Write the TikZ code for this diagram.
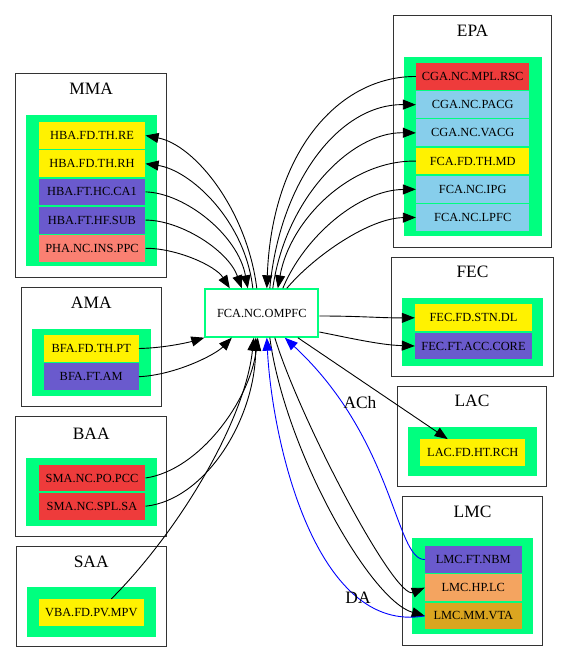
\documentclass[tikz,border=0pt]{standalone}
\usepackage{fontspec}
\setmainfont{Liberation Serif}
\usepackage{tikz}
\usetikzlibrary{arrows.meta,positioning}

\definecolor{springgreen}{HTML}{00FF7F}
\definecolor{slateblue}{HTML}{6A5ACD}
\definecolor{salmon}{HTML}{FA8072}
\definecolor{brownred}{HTML}{EE3B3B}
\definecolor{skyblue}{HTML}{87CEEB}
\definecolor{sandybrown}{HTML}{F4A460}
\definecolor{goldenrod}{HTML}{DAA520}

\begin{document}
\begin{tikzpicture}[
    x=1pt, y=-1pt,
    frame/.style={draw=black!80, line width=0.9pt},
    panel/.style={fill=springgreen},
    clabel/.style={font=\fontsize{17.4pt}{20pt}\selectfont, inner sep=0pt},
    cell/.style={inner sep=0pt, minimum height=26.8pt, font=\fontsize{12.4pt}{14pt}\selectfont},
    hub/.style={draw=springgreen, line width=2pt, fill=white, minimum width=113pt, minimum height=47.4pt, inner sep=0pt, font=\fontsize{12.4pt}{14pt}\selectfont},
    edge/.style={-{Triangle[length=13pt,width=10pt]}, line width=0.9pt},
    bedge/.style={edge, blue},
    elabel/.style={font=\fontsize{17.4pt}{20pt}\selectfont, inner sep=0pt}
]
\useasboundingbox (0,0) rectangle (569,663);

% clusters
\draw[frame] (15.7,73.3) rectangle (166.7,277);
\fill[panel] (26,115) rectangle (156.7,266);
\node[clabel] at (91.2,89) {MMA};
\draw[frame] (393.3,15) rectangle (551.7,247);
\fill[panel] (404,56.7) rectangle (541.7,236);
\node[clabel] at (472.5,30.7) {EPA};
\draw[frame] (21.7,287.3) rectangle (161,406.7);
\fill[panel] (32,329) rectangle (150.7,396);
\node[clabel] at (91.3,302.7) {AMA};
\draw[frame] (15.7,416.7) rectangle (166.7,536);
\fill[panel] (26,457.7) rectangle (156.7,525.7);
\node[clabel] at (91.2,433.3) {BAA};
\draw[frame] (16.3,546) rectangle (166,646.7);
\fill[panel] (26.7,586.7) rectangle (156,636.7);
\node[clabel] at (91.2,561.7) {SAA};
\draw[frame] (391.7,257) rectangle (553.3,376);
\fill[panel] (402.3,298.3) rectangle (542.7,365.7);
\node[clabel] at (472.5,272) {FEC};
\draw[frame] (397.3,386) rectangle (546.7,486.7);
\fill[panel] (408.3,427.3) rectangle (536.7,476);
\node[clabel] at (472,400.7) {LAC};
\draw[frame] (402.3,496.7) rectangle (542.7,645.7);
\fill[panel] (412.3,538.3) rectangle (532.7,634.3);
\node[clabel] at (472.5,511.7) {LMC};

% MMA
\node[cell, fill=yellow, minimum width=106.7pt] (re) at (92,135.5) {HBA.FD.TH.RE};
\node[cell, fill=yellow, minimum width=106.7pt, below=1pt of re] (rh) {HBA.FD.TH.RH};
\node[cell, fill=slateblue, minimum width=106.7pt, below=1pt of rh] (ca1) {HBA.FT.HC.CA1};
\node[cell, fill=slateblue, minimum width=106.7pt, below=1pt of ca1] (sub) {HBA.FT.HF.SUB};
\node[cell, fill=salmon, minimum width=106.7pt, below=1pt of sub] (ppc) {PHA.NC.INS.PPC};

% EPA
\node[cell, fill=brownred, minimum width=113.3pt] (rsc) at (472.7,76.5) {CGA.NC.MPL.RSC};
\node[cell, fill=skyblue, minimum width=113.3pt, below=1pt of rsc] (pacg) {CGA.NC.PACG};
\node[cell, fill=skyblue, minimum width=113.3pt, below=1pt of pacg] (vacg) {CGA.NC.VACG};
\node[cell, fill=yellow, minimum width=113.3pt, below=1pt of vacg] (md) {FCA.FD.TH.MD};
\node[cell, fill=skyblue, minimum width=113.3pt, below=1pt of md] (ipg) {FCA.NC.IPG};
\node[cell, fill=skyblue, minimum width=113.3pt, below=1pt of ipg] (lpfc) {FCA.NC.LPFC};

% AMA
\node[cell, fill=yellow, minimum width=95pt] (pt) at (91.2,348.5) {BFA.FD.TH.PT};
\node[cell, fill=slateblue, minimum width=95pt, below=1pt of pt] (am) {BFA.FT.AM};

% BAA
\node[cell, fill=brownred, minimum width=106.7pt] (pcc) at (92,478) {SMA.NC.PO.PCC};
\node[cell, fill=brownred, minimum width=106.7pt, below=1pt of pcc] (sa) {SMA.NC.SPL.SA};

% SAA
\node[cell, fill=yellow, minimum width=105.3pt] (mpv) at (91.3,612.5) {VBA.FD.PV.MPV};

% FEC
\node[cell, fill=yellow, minimum width=117pt] (dl) at (473.5,317.8) {FEC.FD.STN.DL};
\node[cell, fill=slateblue, minimum width=117pt, below=1pt of dl] (core) {FEC.FT.ACC.CORE};

% LAC
\node[cell, fill=yellow, minimum width=105.3pt] (rch) at (472.7,452.7) {LAC.FD.HT.RCH};

% LMC
\node[cell, fill=slateblue, minimum width=96.7pt] (nbm) at (473.3,559.5) {LMC.FT.NBM};
\node[cell, fill=sandybrown, minimum width=96.7pt, below=1pt of nbm] (lc) {LMC.HP.LC};
\node[cell, fill=goldenrod, minimum width=96.7pt, below=1pt of lc] (vta) {LMC.MM.VTA};

\node[hub] (ompfc) at (261.8,313) {FCA.NC.OMPFC};

% edges to the left
\draw[edge] ([xshift=-5pt]ompfc.north) .. controls (247,210) and (195,145) .. (re.east);
\draw[edge] ([xshift=-9pt]ompfc.north) .. controls (245,220) and (190,170) .. (rh.east);
\draw[edge] (ca1.east) .. controls (185,193) and (238,235) .. ([xshift=-14pt]ompfc.north);
\draw[edge] (sub.east) .. controls (180,220) and (228,250) .. ([xshift=-20pt]ompfc.north);
\draw[edge] (ppc.east) .. controls (175,248) and (215,265) .. ([xshift=-32pt]ompfc.north);
\draw[edge] (pt.east) .. controls (165,348) and (190,342) .. (ompfc.south west);
\draw[edge] (am.east) .. controls (175,375) and (215,355) .. ([xshift=-30pt]ompfc.south);
\draw[edge] (pcc.east) .. controls (200,470) and (250,400) .. ([xshift=-4pt]ompfc.south);
\draw[edge] (sa.east) .. controls (205,500) and (255,420) .. ([xshift=-6pt]ompfc.south);
\draw[edge] ([xshift=20pt]mpv.north) .. controls (180,530) and (245,420) .. ([xshift=-8pt]ompfc.south);

% edges to the right
\draw[edge] (rsc.west) .. controls (340,76) and (272,150) .. ([xshift=5pt]ompfc.north);
\draw[edge] ([xshift=8pt]ompfc.north) .. controls (280,180) and (340,104) .. (pacg.west);
\draw[edge] ([xshift=11pt]ompfc.north) .. controls (285,200) and (350,132) .. (vacg.west);
\draw[edge] (md.west) .. controls (350,160) and (290,220) .. ([xshift=16pt]ompfc.north);
\draw[edge] ([xshift=21pt]ompfc.north) .. controls (305,235) and (360,190) .. (ipg.west);
\draw[edge] ([xshift=25pt]ompfc.north) .. controls (315,255) and (370,218) .. (lpfc.west);
\draw[edge] ([yshift=-3pt]ompfc.east) .. controls (360,316) and (380,318) .. (dl.west);
\draw[edge] ([yshift=-19pt]ompfc.east) .. controls (350,338) and (380,345) .. (core.west);
\draw[edge] ([xshift=36pt]ompfc.south) -- ([xshift=-25pt]rch.north);
\draw[edge] ([xshift=13pt]ompfc.south) .. controls (300,420) and (395,600) .. (lc.west);
\draw[edge] ([xshift=8pt]ompfc.south) .. controls (285,450) and (370,600) .. (vta.west);
\draw[bedge] (nbm.west) .. controls (395,560) and (395,440) .. ([xshift=23pt]ompfc.south);
\draw[bedge] (vta.west) .. controls (315,635) and (272,440) .. ([xshift=5pt]ompfc.south);

\node[elabel] (ach) at (360,403) {ACh};
\node[elabel] (da) at (358,598) {DA};
\end{tikzpicture}
\end{document}
